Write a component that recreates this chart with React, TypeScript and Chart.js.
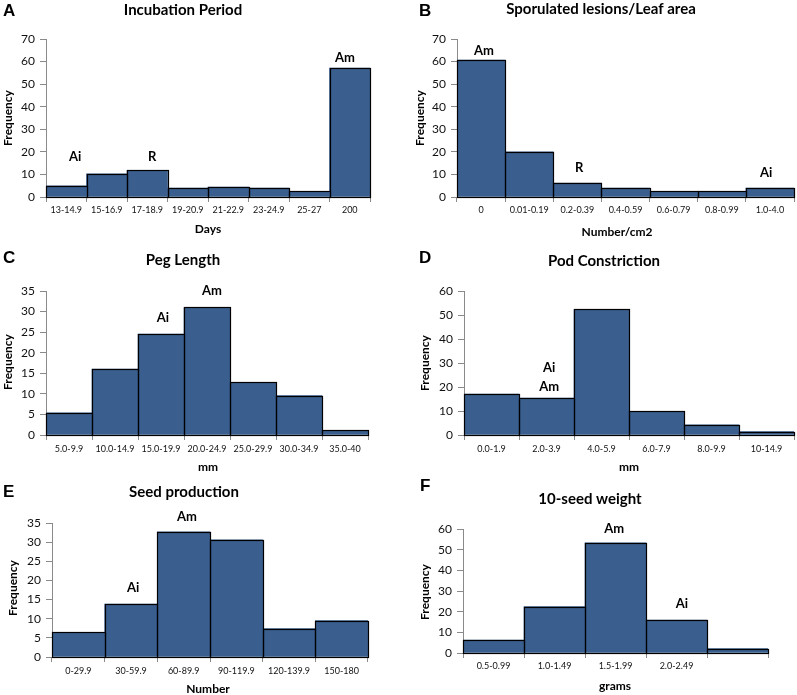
import React, { useEffect, useRef } from "react";
import { Chart, registerables } from "chart.js";

Chart.register(...registerables);

// ---------- DATA ----------
const incubationCategories = ["13-14.9", "15-16.9", "17-18.9", "19-20.9", "21-22.9", "23-24.9", "25-27", "200"];
const incubationFrequency = [5.0, 10.3, 11.8, 4.0, 4.4, 4.0, 2.5, 57.1];
const incubationMarks = [
  { text: "Ai", at: 0.22, level: 17.8 },
  { text: "R", at: 2.12, level: 17.8 },
  { text: "Am", at: 6.88, level: 61.6 },
];

const lesionCategories = ["0", "0.01-0.19", "0.2-0.39", "0.4-0.59", "0.6-0.79", "0.8-0.99", "1.0-4.0"];
const lesionFrequency = [60.7, 20.0, 6.2, 4.0, 2.5, 2.5, 4.0];
const lesionMarks = [
  { text: "Am", at: 0.06, level: 64.7 },
  { text: "R", at: 2.04, level: 13.0 },
  { text: "Ai", at: 5.92, level: 10.8 },
];

const pegCategories = ["5.0-9.9", "10.0-14.9", "15.0-19.9", "20.0-24.9", "25.0-29.9", "30.0-34.9", "35.0-40"];
const pegFrequency = [5.4, 16.0, 24.5, 31.0, 12.8, 9.6, 1.1];
const pegMarks = [
  { text: "Ai", at: 2.04, level: 28.4 },
  { text: "Am", at: 3.11, level: 35.0 },
];

const podCategories = ["0.0-1.9", "2.0-3.9", "4.0-5.9", "6.0-7.9", "8.0-9.9", "10-14.9"];
const podFrequency = [17.1, 15.4, 52.3, 9.8, 4.2, 1.4];
const podMarks = [
  { text: "Ai", at: 1.05, level: 27.9 },
  { text: "Am", at: 1.05, level: 20.0 },
];

const seedCategories = ["0-29.9", "30-59.9", "60-89.9", "90-119.9", "120-139.9", "150-180"];
const seedFrequency = [6.4, 13.8, 32.7, 30.6, 7.4, 9.5];
const seedMarks = [
  { text: "Ai", at: 1.04, level: 18.0 },
  { text: "Am", at: 2.06, level: 36.5 },
];

const weightCategories = ["0.5-0.99", "1.0-1.49", "1.5-1.99", "2.0-2.49", ""];
const weightFrequency = [6.3, 22.5, 53.3, 15.9, 2.1];
const weightMarks = [
  { text: "Am", at: 1.98, level: 60.0 },
  { text: "Ai", at: 3.09, level: 23.8 },
];

const yLabel = "Frequency";

// ---------- LAYOUT ----------
type Mark = { text: string; at: number; level: number };
type Panel = {
  letter: string;
  title: string;
  xTitle: string;
  categories: string[];
  values: number[];
  marks: Mark[];
  yMax: number;
  yStep: number;
  box: { x: number; y: number; w: number; h: number };
  area: { l: number; r: number; t: number; b: number };
  letterPos: [number, number];
  titlePos: [number, number];
  xTitlePos: [number, number];
  yTitlePos: [number, number];
  xPad: number;
};

const panels: Panel[] = [
  {
    letter: "A", title: "Incubation Period", xTitle: "Days",
    categories: incubationCategories, values: incubationFrequency, marks: incubationMarks,
    yMax: 70, yStep: 10,
    box: { x: 0, y: 0, w: 397, h: 240 },
    area: { l: 46, r: 370, t: 39, b: 197 },
    letterPos: [3, 16], titlePos: [183, 15], xTitlePos: [208, 229], yTitlePos: [8, 118], xPad: 3,
  },
  {
    letter: "B", title: "Sporulated lesions/Leaf area", xTitle: "Number/cm2",
    categories: lesionCategories, values: lesionFrequency, marks: lesionMarks,
    yMax: 70, yStep: 10,
    box: { x: 397, y: 0, w: 400, h: 240 },
    area: { l: 457, r: 794, t: 39, b: 197 },
    letterPos: [419, 16], titlePos: [601, 14], xTitlePos: [617, 232], yTitlePos: [420, 118], xPad: 3,
  },
  {
    letter: "C", title: "Peg Length", xTitle: "mm",
    categories: pegCategories, values: pegFrequency, marks: pegMarks,
    yMax: 35, yStep: 5,
    box: { x: 0, y: 240, w: 397, h: 235 },
    area: { l: 46, r: 368, t: 291, b: 435 },
    letterPos: [3, 263], titlePos: [183, 265], xTitlePos: [208, 467], yTitlePos: [8, 362], xPad: 4,
  },
  {
    letter: "D", title: "Pod Constriction", xTitle: "mm",
    categories: podCategories, values: podFrequency, marks: podMarks,
    yMax: 60, yStep: 10,
    box: { x: 397, y: 240, w: 400, h: 235 },
    area: { l: 464, r: 794, t: 291, b: 435 },
    letterPos: [419, 263], titlePos: [604, 266], xTitlePos: [629, 467], yTitlePos: [425, 363], xPad: 4,
  },
  {
    letter: "E", title: "Seed production", xTitle: "Number",
    categories: seedCategories, values: seedFrequency, marks: seedMarks,
    yMax: 35, yStep: 5,
    box: { x: 0, y: 475, w: 397, h: 220 },
    area: { l: 52, r: 368, t: 523, b: 657 },
    letterPos: [3, 497], titlePos: [184, 497], xTitlePos: [208, 689], yTitlePos: [13, 588], xPad: 4,
  },
  {
    letter: "F", title: "10-seed weight", xTitle: "grams",
    categories: weightCategories, values: weightFrequency, marks: weightMarks,
    yMax: 60, yStep: 10,
    box: { x: 397, y: 475, w: 400, h: 220 },
    area: { l: 463, r: 768, t: 529, b: 653 },
    letterPos: [420, 491], titlePos: [590, 504], xTitlePos: [615, 686], yTitlePos: [425, 592], xPad: 3,
  },
];

const BAR_COLOR = "#3a5f8e";
const AXIS_COLOR = "#8a8a8a";
const FONT = "Lato, 'Open Sans', sans-serif";

function makeTextPlugin(p: Panel) {
  return {
    id: "panelText" + p.letter,
    afterDatasetsDraw(chart: any) {
      const ctx = chart.ctx as CanvasRenderingContext2D;
      const meta = chart.getDatasetMeta(0);
      ctx.save();
      ctx.strokeStyle = "#000";
      ctx.lineWidth = 1.2;
      meta.data.forEach((el: any) => {
        const { x, y, base, width } = el.getProps(["x", "y", "base", "width"], true);
        const l = Math.round(x - width / 2) + 0.5;
        const r = Math.round(x + width / 2) + 0.5;
        const t = Math.round(y) + 0.5;
        const b = Math.round(base) + 0.5;
        ctx.strokeRect(l, t, r - l, b - t);
      });
      ctx.restore();
    },
    afterDraw(chart: any) {
      const ctx = chart.ctx as CanvasRenderingContext2D;
      const ox = p.box.x;
      const oy = p.box.y;
      ctx.save();
      ctx.fillStyle = "#000";
      // panel letter
      ctx.font = "bold 17px 'Liberation Sans', Arial, sans-serif";
      ctx.textAlign = "left";
      ctx.textBaseline = "alphabetic";
      ctx.fillText(p.letter, p.letterPos[0] - ox, p.letterPos[1] - oy);
      // title
      ctx.font = `bold 15px ${FONT}`;
      ctx.textAlign = "center";
      ctx.fillText(p.title, p.titlePos[0] - ox, p.titlePos[1] - oy);
      // x title
      ctx.font = `bold 12px ${FONT}`;
      ctx.textBaseline = "middle";
      ctx.fillText(p.xTitle, p.xTitlePos[0] - ox, p.xTitlePos[1] - oy);
      // y title
      ctx.save();
      ctx.translate(p.yTitlePos[0] - ox, p.yTitlePos[1] - oy);
      ctx.rotate(-Math.PI / 2);
      ctx.fillText(yLabel, 0, 0);
      ctx.restore();
      // annotations
      const xs = chart.scales.x;
      const ys = chart.scales.y;
      ctx.font = `bold 13px ${FONT}`;
      ctx.textAlign = "center";
      ctx.textBaseline = "middle";
      p.marks.forEach((m) => {
        ctx.fillText(m.text, xs.getPixelForValue(m.at), ys.getPixelForValue(m.level));
      });
      ctx.restore();
    },
  };
}

function PanelChart({ p }: { p: Panel }) {
  const ref = useRef<HTMLCanvasElement>(null);
  useEffect(() => {
    if (!ref.current) return;
    const yWidth = p.area.l - p.box.x;
    const xHeight = p.box.y + p.box.h - p.area.b;
    const chart = new Chart(ref.current, {
      type: "bar",
      data: {
        labels: p.categories,
        datasets: [
          {
            data: p.values,
            backgroundColor: BAR_COLOR,
            borderWidth: 0,
            barPercentage: 1,
            categoryPercentage: 1,
          },
        ],
      },
      options: {
        responsive: false,
        animation: false,
        devicePixelRatio: 1,
        layout: {
          padding: {
            top: p.area.t - p.box.y,
            right: p.box.x + p.box.w - p.area.r,
            left: 0,
            bottom: 0,
          },
        },
        plugins: {
          legend: { display: false },
          title: { display: false },
          tooltip: { enabled: false },
        },
        scales: {
          x: {
            offset: true,
            grid: {
              display: true,
              offset: true,
              drawOnChartArea: false,
              drawTicks: true,
              tickLength: 5,
              color: AXIS_COLOR,
            },
            border: { display: true, color: AXIS_COLOR, width: 1 },
            ticks: {
              color: "#111",
              font: { family: FONT, size: 9 },
              padding: p.xPad,
              maxRotation: 0,
              autoSkip: false,
            },
            afterFit: (scale: any) => {
              scale.height = xHeight;
            },
          },
          y: {
            min: 0,
            max: p.yMax,
            grid: {
              display: true,
              drawOnChartArea: false,
              drawTicks: true,
              tickLength: 6,
              color: AXIS_COLOR,
            },
            border: { display: true, color: AXIS_COLOR, width: 1 },
            ticks: {
              stepSize: p.yStep,
              color: "#111",
              font: { family: FONT, size: 12 },
              padding: 5,
            },
            afterFit: (scale: any) => {
              scale.width = yWidth;
            },
          },
        },
      },
      plugins: [makeTextPlugin(p)],
    } as any);
    return () => chart.destroy();
  }, [p]);
  return (
    <canvas
      ref={ref}
      width={p.box.w}
      height={p.box.h}
      style={{
        position: "absolute",
        left: p.box.x,
        top: p.box.y,
        width: p.box.w,
        height: p.box.h,
      }}
    />
  );
}

export default function App() {
  return (
    <div
      style={{
        position: "absolute",
        left: 0,
        top: 0,
        width: 797,
        height: 695,
        background: "#fff",
        overflow: "hidden",
      }}
    >
      {panels.map((p) => (
        <PanelChart key={p.letter} p={p} />
      ))}
    </div>
  );
}
